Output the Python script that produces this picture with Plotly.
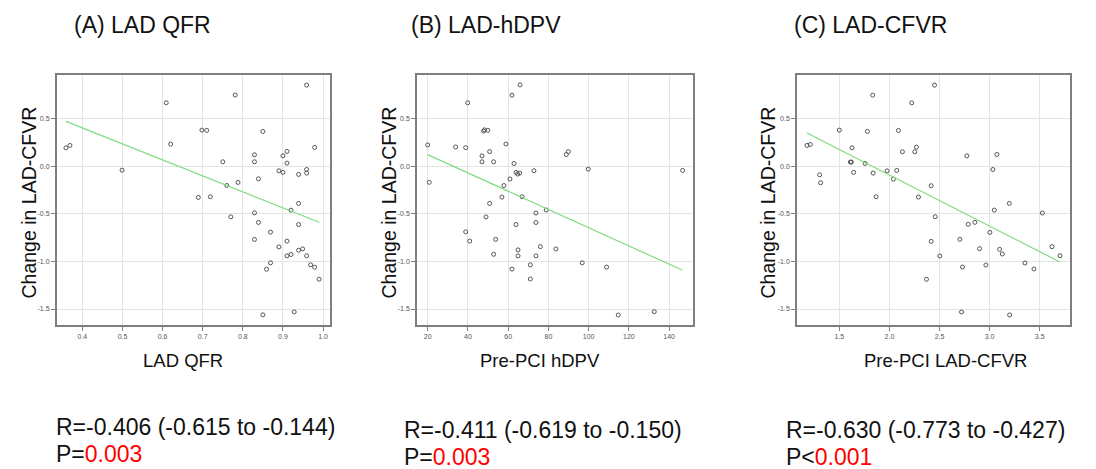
import numpy as np
import plotly.graph_objects as go

# ---------------- data ----------------
A_x = [0.359, 0.369, 0.499, 0.609, 0.620, 0.689, 0.698, 0.710, 0.719, 0.750,
       0.760, 0.770, 0.781, 0.788, 0.829, 0.829, 0.829, 0.829, 0.839, 0.839,
       0.850, 0.850, 0.859, 0.869, 0.869, 0.890, 0.890, 0.900, 0.900, 0.910,
       0.910, 0.910, 0.910, 0.920, 0.920, 0.928, 0.939, 0.939, 0.939, 0.939,
       0.949, 0.959, 0.959, 0.959, 0.959, 0.969, 0.979, 0.979, 0.990]
A_y = [0.196, 0.221, -0.039, 0.670, 0.235, -0.326, 0.382, 0.379, -0.319, 0.049,
       -0.200, -0.530, 0.751, -0.168, 0.123, 0.049, -0.488, -0.768, -0.130, -0.589,
       0.368, -1.561, -1.081, -0.691, -1.014, -0.046, -0.846, 0.112, -0.063, 0.158,
       0.035, -0.786, -0.940, -0.460, -0.926, -1.530, -0.084, -0.389, -0.611, -0.881,
       -0.867, 0.856, -0.032, -0.070, -0.940, -1.035, 0.200, -1.060, -1.186]

B_x = [20.0, 20.8, 33.9, 38.9, 38.9, 39.9, 40.9, 47.0, 47.0, 47.8,
       48.2, 49.9, 49.0, 50.8, 50.8, 52.8, 52.8, 53.8, 56.9, 57.9,
       58.9, 60.9, 61.9, 61.9, 62.9, 63.9, 63.9, 64.7, 64.9, 64.9,
       65.7, 65.9, 66.9, 71.0, 71.0, 72.8, 73.8, 73.8, 73.8, 76.0,
       78.9, 83.7, 88.9, 89.9, 96.8, 99.8, 108.9, 114.7, 132.6, 146.7]
B_y = [0.226, -0.167, 0.205, 0.198, -0.688, 0.670, -0.785, 0.111, 0.049, 0.372,
       0.385, 0.380, -0.531, -0.389, 0.156, 0.049, -0.924, -0.767, -0.323, -0.201,
       0.236, -0.132, 0.750, -1.080, 0.031, -0.063, -0.611, -0.080, -0.878, -0.941,
       -0.069, 0.858, -0.319, -1.035, -1.184, -0.045, -0.490, -0.590, -0.941, -0.844,
       -0.458, -0.868, 0.125, 0.156, -1.014, -0.028, -1.059, -1.563, -1.528, -0.042]

C_x = [1.177, 1.210, 1.303, 1.313, 1.500, 1.627, 1.610, 1.620, 1.643, 1.757,
       1.780, 1.833, 1.837, 1.867, 1.977, 2.040, 2.073, 2.090, 2.130, 2.223,
       2.253, 2.270, 2.290, 2.370, 2.417, 2.417, 2.450, 2.457, 2.503, 2.703,
       2.720, 2.730, 2.773, 2.787, 2.853, 2.900, 2.963, 3.003, 3.033, 3.047,
       3.073, 3.100, 3.127, 3.197, 3.200, 3.353, 3.443, 3.527, 3.623, 3.703]
C_y = [0.221, 0.231, -0.088, -0.172, 0.382, 0.196, 0.046, 0.046, -0.063, 0.032,
       0.368, 0.750, -0.070, -0.319, -0.046, -0.133, -0.042, 0.378, 0.154, 0.669,
       0.154, 0.203, -0.322, -1.187, -0.203, -0.788, 0.855, -0.529, -0.942, -0.767,
       -1.531, -1.058, 0.112, -0.609, -0.588, -0.865, -1.037, -0.694, -0.032, -0.459,
       0.126, -0.872, -0.921, -0.389, -1.562, -1.016, -1.079, -0.490, -0.844, -0.939]

A_xticks = [0.4, 0.5, 0.6, 0.7, 0.8, 0.9, 1.0]
A_xticklabels = ["0.4", "0.5", "0.6", "0.7", "0.8", "0.9", "1.0"]
B_xticks = [20, 40, 60, 80, 100, 120, 140]
B_xticklabels = ["20", "40", "60", "80", "100", "120", "140"]
C_xticks = [1.5, 2.0, 2.5, 3.0, 3.5]
C_xticklabels = ["1.5", "2.0", "2.5", "3.0", "3.5"]
y_ticks = [0.5, 0.0, -0.5, -1.0, -1.5]
y_ticklabels = ["0.5", "0.0", "-0.5", "-1.0", "-1.5"]

panel_titles = ["(A) LAD QFR", "(B) LAD-hDPV", "(C) LAD-CFVR"]
x_titles = ["LAD QFR", "Pre-PCI hDPV", "Pre-PCI LAD-CFVR"]
y_title = "Change in LAD-CFVR"
r_texts = ["R=-0.406 (-0.615 to -0.144)", "R=-0.411 (-0.619 to -0.150)",
           "R=-0.630 (-0.773 to -0.427)"]
p_prefix = ["P=", "P=", "P<"]
p_values = ["0.003", "0.003", "0.001"]

# ---------------- layout constants ----------------
# the page body has an 8px margin, so the figure starts at (8, 8) in the window
OFF = 8
W, H = 1096 - OFF, 469 - OFF
FONT = "Liberation Sans, Arial, sans-serif"
px_x = lambda v: (v - OFF) / W
px_y = lambda v: 1 - (v - OFF) / H

panels = [
    dict(x=A_x, y=A_y, ticks=A_xticks, labels=A_xticklabels, xr=[0.336, 1.016],
         dom=[56.7, 329.5], ytitle_x=28.5, xtitle_x=183, title_x=72,
         text_x=55, text_y=427),
    dict(x=B_x, y=B_y, ticks=B_xticks, labels=B_xticklabels, xr=[14.7, 151.6],
         dom=[417.0, 692.5], ytitle_x=388.5, xtitle_x=540, title_x=409,
         text_x=403, text_y=430),
    dict(x=C_x, y=C_y, ticks=C_xticks, labels=C_xticklabels, xr=[1.077, 3.803],
         dom=[797.0, 1070.0], ytitle_x=767.5, xtitle_x=945, title_x=792,
         text_x=785, text_y=430),
]
y_dom = [px_y(325), px_y(75)]
y_range = [-1.668, 0.962]

fig = go.Figure()
annotations = []
for i, p in enumerate(panels):
    n = "" if i == 0 else str(i + 1)
    xa, ya = "x" + n, "y" + n
    fig.add_trace(go.Scatter(
        x=p["x"], y=p["y"], mode="markers", xaxis=xa, yaxis=ya,
        marker=dict(symbol="circle-open", size=4, color="#555555",
                    line=dict(width=1, color="#555555")),
        showlegend=False, hoverinfo="skip"))
    # least-squares fit line computed from the data
    slope, icpt = np.polyfit(p["x"], p["y"], 1)
    fx = [min(p["x"]), max(p["x"])]
    fig.add_trace(go.Scatter(
        x=fx, y=[slope * v + icpt for v in fx], mode="lines", xaxis=xa, yaxis=ya,
        line=dict(color="#7fdc7f", width=1.2), showlegend=False, hoverinfo="skip"))

    axis_common = dict(showline=True, mirror=True, linecolor="#7f7f7f", linewidth=1.5,
                       showgrid=True, gridcolor="#e4e4e4", gridwidth=1, zeroline=False,
                       ticks="outside", ticklen=4, tickcolor="#7f7f7f", tickwidth=1,
                       tickfont=dict(family=FONT, size=7, color="#555555"),
                       tickmode="array")
    fig.layout["xaxis" + n] = dict(
        domain=[px_x(p["dom"][0]), px_x(p["dom"][1])], range=p["xr"], anchor=ya,
        tickvals=p["ticks"], ticktext=p["labels"], **axis_common)
    fig.layout["yaxis" + n] = dict(
        domain=y_dom, range=y_range, anchor=xa,
        tickvals=y_ticks, ticktext=y_ticklabels, **axis_common)

    annotations.append(dict(text=panel_titles[i], x=px_x(p["title_x"]), y=px_y(25),
                            xref="paper", yref="paper", xanchor="left", yanchor="middle",
                            showarrow=False, font=dict(family=FONT, size=23, color="#111111")))
    annotations.append(dict(text=x_titles[i], x=px_x(p["xtitle_x"]), y=px_y(360),
                            xref="paper", yref="paper", xanchor="center", yanchor="middle",
                            showarrow=False, font=dict(family=FONT, size=18.5, color="#111111")))
    annotations.append(dict(text=y_title, x=px_x(p["ytitle_x"]), y=px_y(203), textangle=-90,
                            xref="paper", yref="paper", xanchor="center", yanchor="middle",
                            showarrow=False, font=dict(family=FONT, size=19.5, color="#111111")))
    annotations.append(dict(text=r_texts[i], x=px_x(p["text_x"]), y=px_y(p["text_y"]),
                            xref="paper", yref="paper", xanchor="left", yanchor="middle",
                            borderpad=0, showarrow=False,
                            font=dict(family=FONT, size=23, color="#111111")))
    annotations.append(dict(text=p_prefix[i] + "<span style='color:#ff0000'>" + p_values[i] + "</span>",
                            x=px_x(p["text_x"]), y=px_y(p["text_y"] + 27),
                            xref="paper", yref="paper", xanchor="left", yanchor="middle",
                            borderpad=0, showarrow=False,
                            font=dict(family=FONT, size=23, color="#111111")))

fig.update_layout(width=W, height=H, margin=dict(l=0, r=0, t=0, b=0),
                  paper_bgcolor="white", plot_bgcolor="white",
                  annotations=annotations, showlegend=False)

fig.write_html("out.html")
